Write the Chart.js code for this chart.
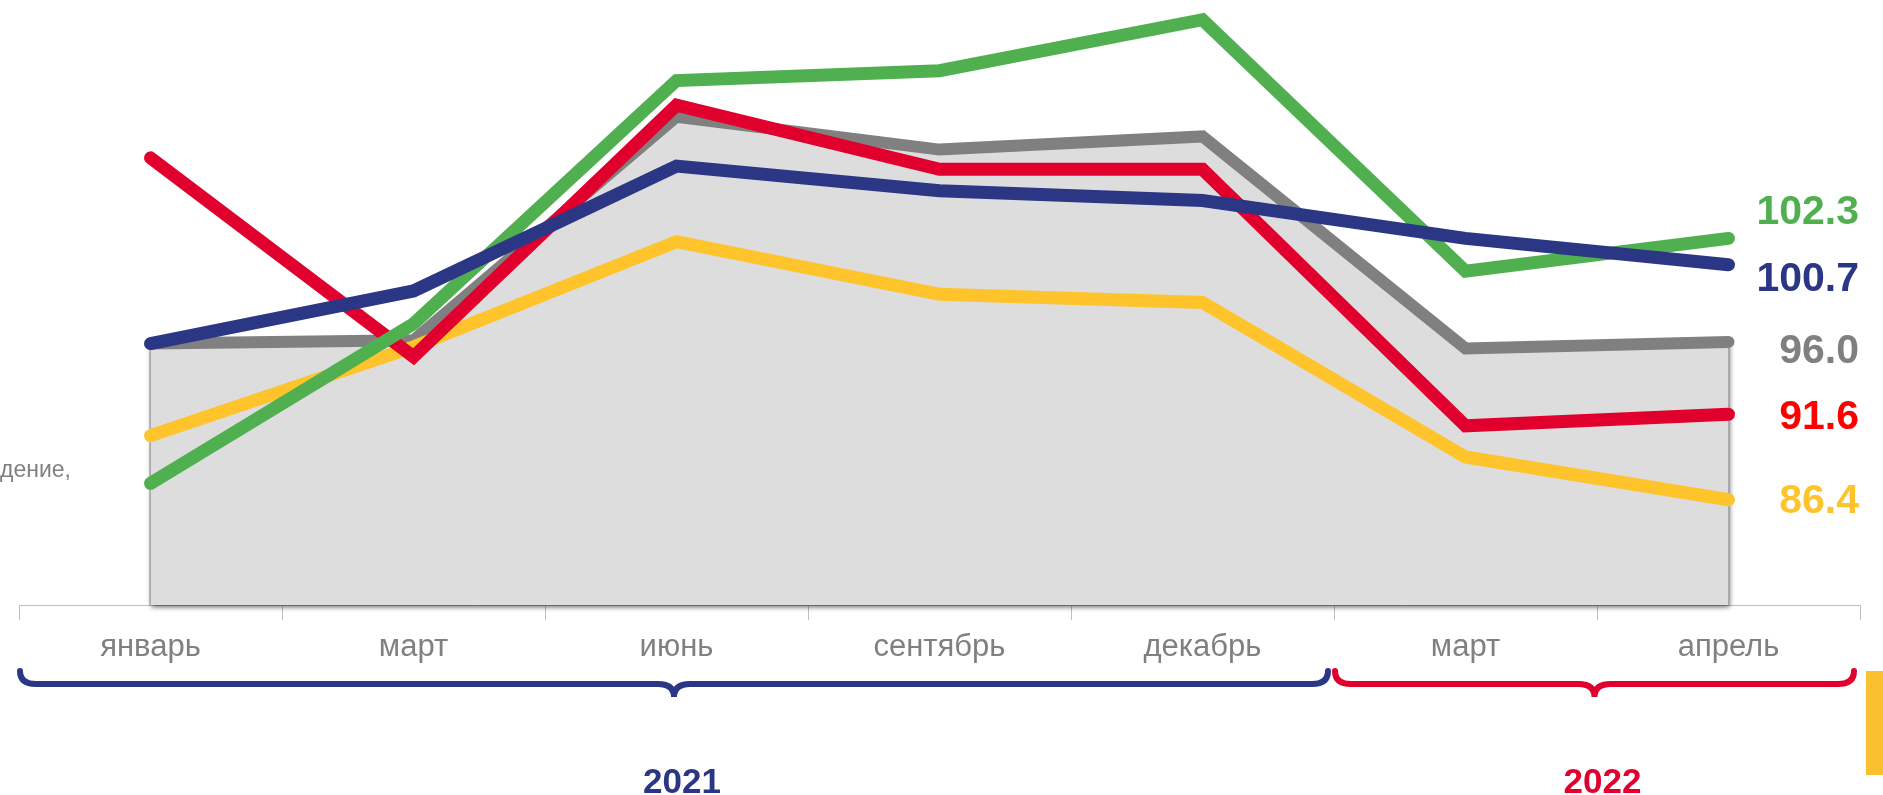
<!DOCTYPE html>
<html lang="ru">
<head>
<meta charset="utf-8">
<title>Индексы 2021–2022</title>
<script src="https://cdn.jsdelivr.net/npm/chart.js@4.4.1/dist/chart.umd.min.js"></script>
<style>
    html, body { margin: 0; padding: 0; background: #fff; overflow: hidden; }
    #wrap { position: relative; width: 1883px; height: 795px; }
</style>
</head>
<body>
<div id="wrap"><canvas id="chart" width="1883" height="795"></canvas></div>
<script>
// ── Data ──────────────────────────────────────────────────────
const months        = ['январь', 'март', 'июнь', 'сентябрь', 'декабрь', 'март', 'апрель'];
const years         = ['2021', '2022'];
const monthsPerYear = [5, 2];

const blueSeries   = [95.9, 99.1, 106.7, 105.2, 104.6, 102.3, 100.7];
const greenSeries  = [87.4, 97.1, 111.9, 112.5, 115.6, 100.3, 102.3];
const redSeries    = [107.2, 95.1, 110.4, 106.5, 106.5, 90.9, 91.6];
const yellowSeries = [90.3, 95.7, 102.1, 98.9, 98.4, 89.0, 86.4];
const graySeries   = [95.9, 96.1, 109.7, 107.7, 108.5, 95.6, 96.0];

// ── Styles ────────────────────────────────────────────────────
const FONT = '"Liberation Sans", Arial, sans-serif';
const C_BLUE   = '#2B3784';
const C_GREEN  = '#50B050';
const C_RED    = '#E1002D';
const C_YELLOW = '#FFC32B';
const C_GRAY   = '#808080';

// end-label colours / vertical nudges, same order as datasets
const endLabelColors = [C_BLUE, C_GREEN, '#FF0000', C_YELLOW, C_GRAY];
const endLabelNudge  = [15, -26, 3, 2, 10];
const yearColors     = [C_BLUE, C_RED];
const AREA_INDEX     = 4;

function lineDs(data, color) {
    return {
        data,
        borderColor: color,
        borderWidth: 13,
        borderCapStyle: 'round',
        borderJoinStyle: 'miter',
        pointRadius: 0,
        tension: 0,
        fill: false,
        clip: false
    };
}

const grayDs = lineDs(graySeries, C_GRAY);
grayDs.fill = 'start';
grayDs.backgroundColor = '#DDDDDD';
grayDs.borderWidth = 12;

// ── Decorations: shadow under gray area, end labels, braces ───
const decorPlugin = {
    id: 'decor',
    beforeDatasetsDraw(chart) {
        // soft shadow behind the gray area, following its points
        const ctx = chart.ctx;
        const pts = chart.getDatasetMeta(AREA_INDEX).data;
        const bottom = chart.chartArea.bottom;
        ctx.save();
        ctx.beginPath();
        ctx.moveTo(pts[0].x, bottom);
        pts.forEach(p => ctx.lineTo(p.x, p.y));
        ctx.lineTo(pts[pts.length - 1].x, bottom);
        ctx.closePath();
        ctx.shadowColor = 'rgba(0,0,0,0.6)';
        ctx.shadowBlur = 5;
        ctx.shadowOffsetX = 1;
        ctx.shadowOffsetY = 2;
        ctx.fillStyle = '#DDDDDD';
        ctx.fill();
        ctx.shadowColor = 'transparent';
        ctx.strokeStyle = '#999999';
        ctx.lineWidth = 2;
        ctx.beginPath();
        ctx.moveTo(pts[0].x, pts[0].y);
        ctx.lineTo(pts[0].x, bottom);
        ctx.moveTo(pts[pts.length - 1].x, pts[pts.length - 1].y);
        ctx.lineTo(pts[pts.length - 1].x, bottom);
        ctx.stroke();
        ctx.restore();
    },
    afterDraw(chart) {
        const ctx = chart.ctx;
        const xs = chart.scales.x;

        // values at the right end
        ctx.save();
        ctx.font = 'bold 41px ' + FONT;
        ctx.textAlign = 'right';
        ctx.textBaseline = 'middle';
        chart.data.datasets.forEach((ds, i) => {
            const pts = chart.getDatasetMeta(i).data;
            const last = pts[pts.length - 1];
            ctx.fillStyle = endLabelColors[i];
            ctx.fillText(ds.data[ds.data.length - 1].toFixed(1), 1859, last.y + endLabelNudge[i]);
        });
        ctx.restore();

        // year braces
        const half = (xs.getPixelForValue(1) - xs.getPixelForValue(0)) / 2;
        let start = 0;
        years.forEach((yr, g) => {
            const end = start + monthsPerYear[g] - 1;
            const x0 = xs.getPixelForValue(start) - half + 1;
            const x1 = xs.getPixelForValue(end) + half - 6;
            drawBrace(ctx, x0, x1, 671, yearColors[g]);
            ctx.save();
            ctx.font = 'bold 35px ' + FONT;
            ctx.fillStyle = yearColors[g];
            ctx.textAlign = 'center';
            ctx.textBaseline = 'alphabetic';
            ctx.fillText(yr, (x0 + x1) / 2 + 8, 793);
            ctx.restore();
            start = end + 1;
        });

        // clipped side note on the left
        ctx.save();
        ctx.font = '23px ' + FONT;
        ctx.fillStyle = '#808080';
        ctx.textBaseline = 'alphabetic';
        ctx.fillText('дение,', 0, 477);
        ctx.restore();

        // yellow marker at bottom right
        ctx.fillStyle = '#FBC02D';
        ctx.fillRect(1866, 671, 17, 104);
    }
};

function drawBrace(ctx, x0, x1, y, color) {
    const mid = (x0 + x1) / 2;
    const h = 13, tip = 13, r = 16;
    ctx.save();
    ctx.strokeStyle = color;
    ctx.lineWidth = 6;
    ctx.lineCap = 'round';
    ctx.beginPath();
    ctx.moveTo(x0, y);
    ctx.quadraticCurveTo(x0, y + h, x0 + r, y + h);
    ctx.lineTo(mid - r, y + h);
    ctx.quadraticCurveTo(mid, y + h, mid, y + h + tip);
    ctx.quadraticCurveTo(mid, y + h, mid + r, y + h);
    ctx.lineTo(x1 - r, y + h);
    ctx.quadraticCurveTo(x1, y + h, x1, y);
    ctx.stroke();
    ctx.restore();
}

// ── Chart ─────────────────────────────────────────────────────
new Chart(document.getElementById('chart').getContext('2d'), {
    type: 'line',
    data: {
        labels: months,
        datasets: [
            lineDs(blueSeries, C_BLUE),
            lineDs(greenSeries, C_GREEN),
            lineDs(redSeries, C_RED),
            lineDs(yellowSeries, C_YELLOW),
            grayDs
        ]
    },
    options: {
        responsive: false,
        animation: false,
        devicePixelRatio: 1,
        layout: { padding: { left: 19, right: 23, top: 0, bottom: 0 } },
        plugins: { legend: { display: false }, tooltip: { enabled: false } },
        scales: {
            x: {
                offset: true,
                grid: { offset: true, drawOnChartArea: false, drawTicks: true, tickLength: 15, color: '#BFBFBF', lineWidth: 1 },
                border: { display: true, color: '#BFBFBF', width: 1 },
                ticks: { color: '#808080', font: { family: FONT, size: 31 }, padding: 9, maxRotation: 0, autoSkip: false },
                afterFit(scale) { scale.height = 190; }
            },
            y: { display: false, min: 80, max: 116.8 }
        }
    },
    plugins: [decorPlugin]
});
</script>
</body>
</html>
